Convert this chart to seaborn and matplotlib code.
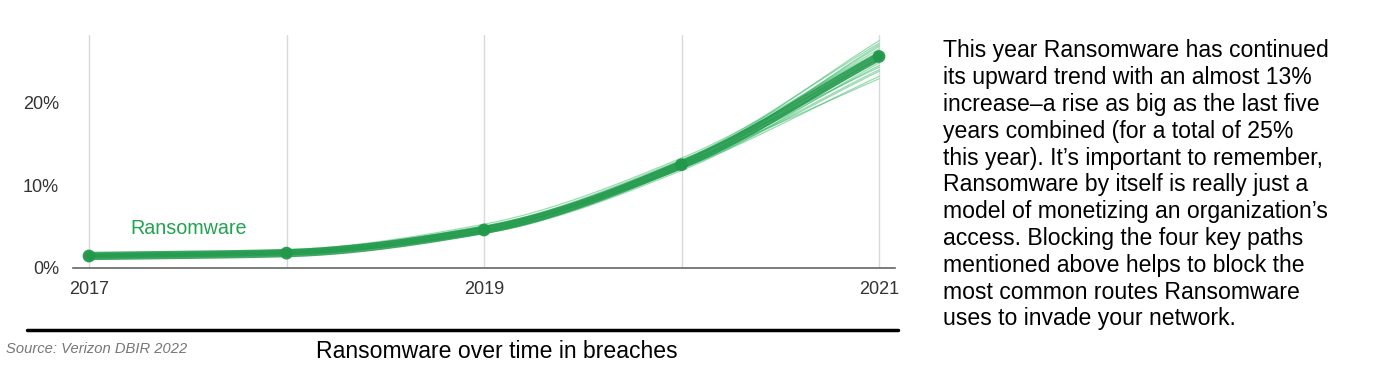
import numpy as np
import pandas as pd
import matplotlib
matplotlib.use("Agg")
import matplotlib.pyplot as plt
import seaborn as sns

# ---------------- data ----------------
years = [2017, 2018, 2019, 2020, 2021]
ransomware = [1.45, 1.8, 4.6, 12.5, 25.6]          # % of breaches (median)
# simulated-draw spaghetti lines read from the picture spread
draw_values = [
    [1.3, 1.7, 4.3, 12.0, 23.2],
    [1.6, 2.0, 4.9, 13.0, 27.2],
    [1.4, 1.9, 4.5, 12.3, 24.5],
    [1.5, 1.8, 4.8, 12.8, 26.5],
    [1.7, 2.1, 5.1, 12.6, 25.0],
    [1.3, 1.8, 4.4, 12.9, 26.0],
    [1.5, 1.7, 4.6, 12.2, 24.0],
    [1.6, 2.0, 4.7, 12.7, 27.5],
    [1.4, 1.8, 4.9, 12.4, 25.8],
    [1.5, 1.9, 4.3, 12.5, 26.8],
    [1.2, 1.6, 4.6, 12.1, 23.8],
    [1.6, 1.9, 5.0, 13.1, 25.3],
    [1.4, 1.7, 4.2, 11.8, 24.8],
    [1.7, 2.2, 5.3, 13.3, 26.2],
    [1.3, 1.6, 4.5, 12.6, 22.9],
    [1.5, 2.0, 4.8, 12.0, 25.5],
    [1.6, 1.8, 4.4, 13.0, 24.3],
    [1.4, 2.1, 5.0, 12.3, 27.0],
]
x_tick_labels = ["2017", "2019", "2021"]
y_ticks = [0, 10, 20]
y_tick_labels = ["0%", "10%", "20%"]
series_label = "Ransomware"
title = "Ransomware over time in breaches"
source = "Source: Verizon DBIR 2022"
body_lines = [
    "This year Ransomware has continued",
    "its upward trend with an almost 13%",
    "increase\u2013a rise as big as the last five",
    "years combined (for a total of 25%",
    "this year). It\u2019s important to remember,",
    "Ransomware by itself is really just a",
    "model of monetizing an organization\u2019s",
    "access. Blocking the four key paths",
    "mentioned above helps to block the",
    "most common routes Ransomware",
    "uses to invade your network.",
]

# ---------------- rendering helpers ----------------
def smooth(xs, ys, n=40):
    """Monotone cubic (Fritsch-Carlson) rendering of a polyline."""
    xs = np.asarray(xs, float); ys = np.asarray(ys, float)
    h = np.diff(xs); d = np.diff(ys) / h
    m = np.zeros_like(ys)
    m[0], m[-1] = d[0], d[-1]
    for i in range(1, len(xs) - 1):
        if d[i - 1] * d[i] <= 0:
            m[i] = 0
        else:
            w1 = 2 * h[i] + h[i - 1]; w2 = h[i] + 2 * h[i - 1]
            m[i] = (w1 + w2) / (w1 / d[i - 1] + w2 / d[i])
    ox, oy = [], []
    for i in range(len(xs) - 1):
        t = np.linspace(0, 1, n, endpoint=(i == len(xs) - 2))
        h00 = 2 * t**3 - 3 * t**2 + 1; h10 = t**3 - 2 * t**2 + t
        h01 = -2 * t**3 + 3 * t**2; h11 = t**3 - t**2
        ox.append(xs[i] + t * h[i])
        oy.append(h00 * ys[i] + h10 * h[i] * m[i] + h01 * ys[i + 1] + h11 * h[i] * m[i + 1])
    return np.concatenate(ox), np.concatenate(oy)

rows = []
for k, vals in enumerate(draw_values):
    sx, sy = smooth(years, vals)
    rows.append(pd.DataFrame({"year": sx, "value": sy, "draw": k}))
draws_df = pd.concat(rows, ignore_index=True)
mx, my = smooth(years, ransomware)
main_df = pd.DataFrame({"year": mx, "value": my})
pts_df = pd.DataFrame({"year": years, "value": ransomware})

# ---------------- figure ----------------
sns.set_theme(style="white")
plt.rcParams["font.family"] = ["Liberation Sans", "DejaVu Sans"]

fig = plt.figure(figsize=(14, 3.76), dpi=100)
ax = fig.add_axes([73 / 1400, 1 - 268 / 376, (895 - 73) / 1400, (268 - 35) / 376])

light_green = "#35b865"
main_green = "#22984b"

sns.lineplot(data=draws_df, x="year", y="value", units="draw", estimator=None,
             color=light_green, lw=0.9, alpha=0.5, ax=ax, sort=False)
sns.lineplot(data=main_df, x="year", y="value", color=main_green, lw=6,
             alpha=0.85, ax=ax, sort=False, solid_capstyle="round")
sns.scatterplot(data=pts_df, x="year", y="value", color=main_green, s=85,
                edgecolor="none", alpha=0.95, ax=ax, zorder=5)

ax.set_xlim(2017 - 16 / 197.5, 2021 + 16 / 197.5)
ax.set_ylim(0, 28.2)
for yr in years:
    ax.axvline(yr, color="#d9d9d9", lw=1, zorder=0)

ax.set_xticks([2017, 2019, 2021])
ax.set_xticklabels(x_tick_labels)
ax.set_yticks(y_ticks)
ax.set_yticklabels(y_tick_labels)
ax.tick_params(axis="both", length=0, labelsize=13, colors="#333333", pad=9)
ax.tick_params(axis="y", pad=10)
ax.set_xlabel(""); ax.set_ylabel("")
for s in ["top", "right", "left"]:
    ax.spines[s].set_visible(False)
ax.spines["bottom"].set_color("#666666")
ax.spines["bottom"].set_linewidth(1.2)
ax.grid(False)

ax.text(2017 + 41 / 197.5, 4.8, series_label, color="#22a350", fontsize=14.2,
        va="center", ha="left")

# bottom rule, source, title
fig.add_artist(plt.Line2D([27 / 1400, 898 / 1400], [1 - 330 / 376] * 2,
                          color="black", lw=2.5))
fig.text(6 / 1400, 1 - 349 / 376, source, fontsize=10.6, style="italic",
         color="#777777", va="center", ha="left")
fig.text(497 / 1400, 1 - 351 / 376, title, fontsize=16.6, color="black",
         va="center", ha="center")

# right-hand body text
for i, line in enumerate(body_lines):
    fig.text(943 / 1400, 1 - (51 + i * 26.8) / 376, line, fontsize=16.6,
             color="black", va="center", ha="left")

fig.savefig("out.png", dpi=100)
